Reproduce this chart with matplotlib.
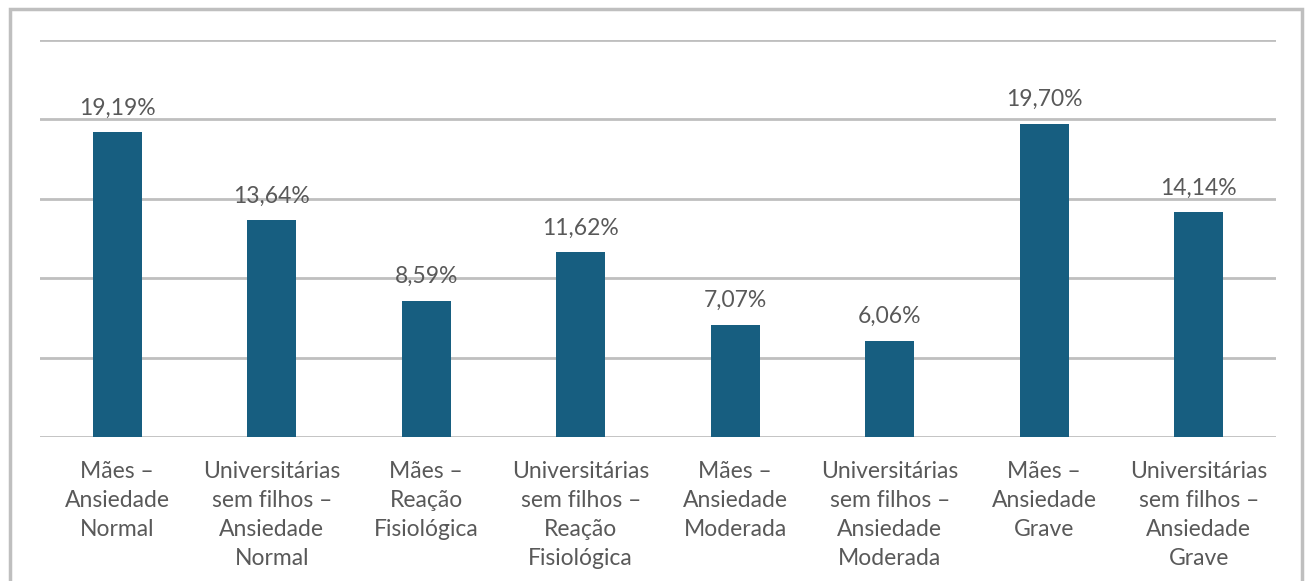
import matplotlib.pyplot as plt
from matplotlib.patches import Rectangle

# categories and percentages
categories = [
    'Mães –\nAnsiedade\nNormal',
    'Universitárias\nsem filhos –\nAnsiedade\nNormal',
    'Mães –\nReação\nFisiológica',
    'Universitárias\nsem filhos –\nReação\nFisiológica',
    'Mães –\nAnsiedade\nModerada',
    'Universitárias\nsem filhos –\nAnsiedade\nModerada',
    'Mães –\nAnsiedade\nGrave',
    'Universitárias\nsem filhos –\nAnsiedade\nGrave',
]
values = [19.19, 13.64, 8.59, 11.62, 7.07, 6.06, 19.70, 14.14]

plt.rcParams['font.family'] = ['Lato', 'DejaVu Sans']

fig = plt.figure(figsize=(13.08, 5.81), dpi=100)
W, H = 1308, 581
ax = fig.add_axes([40 / W, (H - 437) / H, (1276 - 40) / W, (437 - 40) / H])

x = range(len(categories))
bars = ax.bar(x, values, width=0.32, color='#175e80', zorder=3)

for b, v in zip(bars, values):
    ax.annotate(f'{v:.2f}%'.replace('.', ','), (b.get_x() + b.get_width() / 2, v),
                xytext=(0, 10), textcoords='offset points', ha='center', va='bottom',
                fontsize=16.5, color='#595959')

ax.set_xlim(-0.5, len(categories) - 0.5)
ax.set_ylim(0, 25)
ax.set_yticks([0, 5, 10, 15, 20, 25])
ax.yaxis.grid(True, color='#bfbfbf', linewidth=2, zorder=0)
ax.set_yticklabels([])
ax.tick_params(axis='y', length=0)
ax.tick_params(axis='x', length=0, pad=17)
ax.set_xticks(list(x))
ax.set_xticklabels(categories, fontsize=16.5, color='#595959', linespacing=1.47, va='top')
for s in ax.spines.values():
    s.set_visible(False)

# outer frame
fig.patches.append(Rectangle((10 / W, -0.1), (1302 - 10) / W, 1.1 - 9 / H,
                             transform=fig.transFigure, fill=False,
                             edgecolor='#bfbfbf', linewidth=2.5))

fig.savefig('out.png', dpi=100, facecolor='white')
